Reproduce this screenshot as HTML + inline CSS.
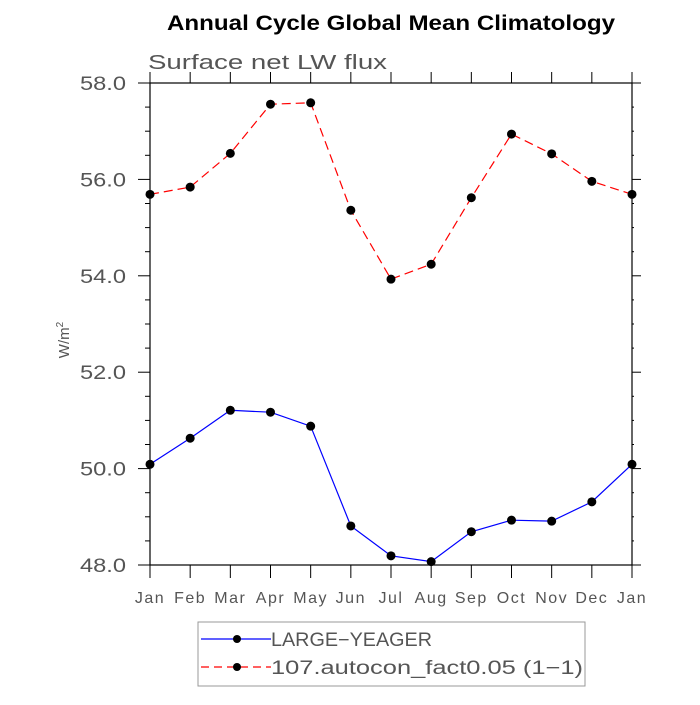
<!DOCTYPE html>
<html><head><meta charset="utf-8"><style>
body{margin:0;background:#fff;}
svg text{font-family:"Liberation Sans",sans-serif;}
</style></head><body>
<svg id="chart" width="700" height="700" xmlns="http://www.w3.org/2000/svg">
<text x="391" y="30" text-anchor="middle" font-size="21" font-weight="bold" fill="#000" textLength="448" lengthAdjust="spacingAndGlyphs">Annual Cycle Global Mean Climatology</text>
<text x="148" y="69" font-size="20" fill="#555" textLength="239" lengthAdjust="spacingAndGlyphs">Surface net LW flux</text>
<text transform="translate(69,340) rotate(-90)" text-anchor="middle" font-size="15" fill="#555">W/m<tspan font-size="10" dy="-6">2</tspan></text>
<g id="axes"></g>
<g id="series"></g>
<rect x="198" y="622" width="387" height="64" fill="none" stroke="#999" stroke-width="1"/>
<g>
<line x1="201" y1="639" x2="271" y2="639" stroke="#0000ff" stroke-width="1.2"/>
<circle cx="237" cy="639" r="4" fill="#000"/>
<text x="271" y="646" font-size="19" fill="#555" textLength="161" lengthAdjust="spacingAndGlyphs">LARGE−YEAGER</text>
</g>
<g>
<line x1="201" y1="667" x2="271" y2="667" stroke="#ff0000" stroke-width="1.2" stroke-dasharray="8,5"/>
<circle cx="237" cy="667" r="4" fill="#000"/>
<text x="271" y="674" font-size="19" fill="#555" textLength="312" lengthAdjust="spacingAndGlyphs">107.autocon_fact0.05 (1−1)</text>
</g>
</svg>
<script>
const months = ["Jan","Feb","Mar","Apr","May","Jun","Jul","Aug","Sep","Oct","Nov","Dec","Jan"];
const largeYeager = [50.09,50.63,51.21,51.17,50.88,48.81,48.19,48.07,48.69,48.93,48.91,49.31,50.09];
const autocon = [55.69,55.84,56.54,57.56,57.59,55.36,53.93,54.24,55.62,56.94,56.53,55.96,55.69];
const yTicks = [48,50,52,54,56,58];
const yTickLabels = ["48.0","50.0","52.0","54.0","56.0","58.0"];
const yMin = 48, yMax = 58;

const NS = "http://www.w3.org/2000/svg";
const X0 = 150, X1 = 632, Y0 = 565, Y1 = 83;
function xs(i){ return X0 + (X1 - X0) * i / (months.length - 1); }
function ysc(v){ return Y0 - (Y0 - Y1) * (v - yMin) / (yMax - yMin); }
function mk(tag, attrs, parent){ const e = document.createElementNS(NS, tag); for (const k in attrs) e.setAttribute(k, attrs[k]); parent.appendChild(e); return e; }

const axes = document.getElementById('axes');
const frame = mk('rect', {x:X0, y:Y1, width:X1-X0, height:Y0-Y1, fill:'none', stroke:'#000', 'stroke-width':1.2}, axes);


months.forEach((m, i) => {
  const x = xs(i);
  mk('line', {x1:x, y1:Y0, x2:x, y2:Y0+13, stroke:'#000', 'stroke-width':1}, axes);
  mk('line', {x1:x, y1:Y1, x2:x, y2:Y1-11, stroke:'#000', 'stroke-width':1}, axes);
  const t = mk('text', {x:x, y:603, 'text-anchor':'middle', 'font-size':16, fill:'#555', 'letter-spacing':'1.5'}, axes);
  t.textContent = m;
  
  
});
for (let v = yMin; v <= yMax + 1e-9; v += 0.5) {
  const y = ysc(v);
  const major = yTicks.some(t => Math.abs(t - v) < 1e-9);
  const L = major ? 12 : 5;
  mk('line', {x1:X0-L, y1:y, x2:X0, y2:y, stroke:'#000', 'stroke-width':1}, axes);
  mk('line', {x1:X1, y1:y, x2:X1+L-3, y2:y, stroke:'#000', 'stroke-width':1}, axes);
}
yTicks.forEach((v, i) => {
  const t = mk('text', {x:80, y:ysc(v)+7, 'font-size':19, fill:'#555', textLength:46, lengthAdjust:'spacingAndGlyphs'}, axes);
  t.textContent = yTickLabels[i];
  
  
});

const series = document.getElementById('series');
function drawSeries(vals, color, dash, name){
  const g = mk('g', {}, series);
  
  
  const pts = vals.map((v, i) => xs(i) + ',' + ysc(v)).join(' ');
  const pl = mk('polyline', {points:pts, fill:'none', stroke:color, 'stroke-width':1.2}, g);
  if (dash) pl.setAttribute('stroke-dasharray', dash);
  
  
  vals.forEach((v, i) => {
    const c = mk('circle', {cx:xs(i), cy:ysc(v), r:4.5, fill:'#000'}, g);
    
    
  });
}
drawSeries(largeYeager, '#0000ff', null, 'large-yeager');
drawSeries(autocon, '#ff0000', '9,5', 'autocon-fact');
</script>
</body></html>
